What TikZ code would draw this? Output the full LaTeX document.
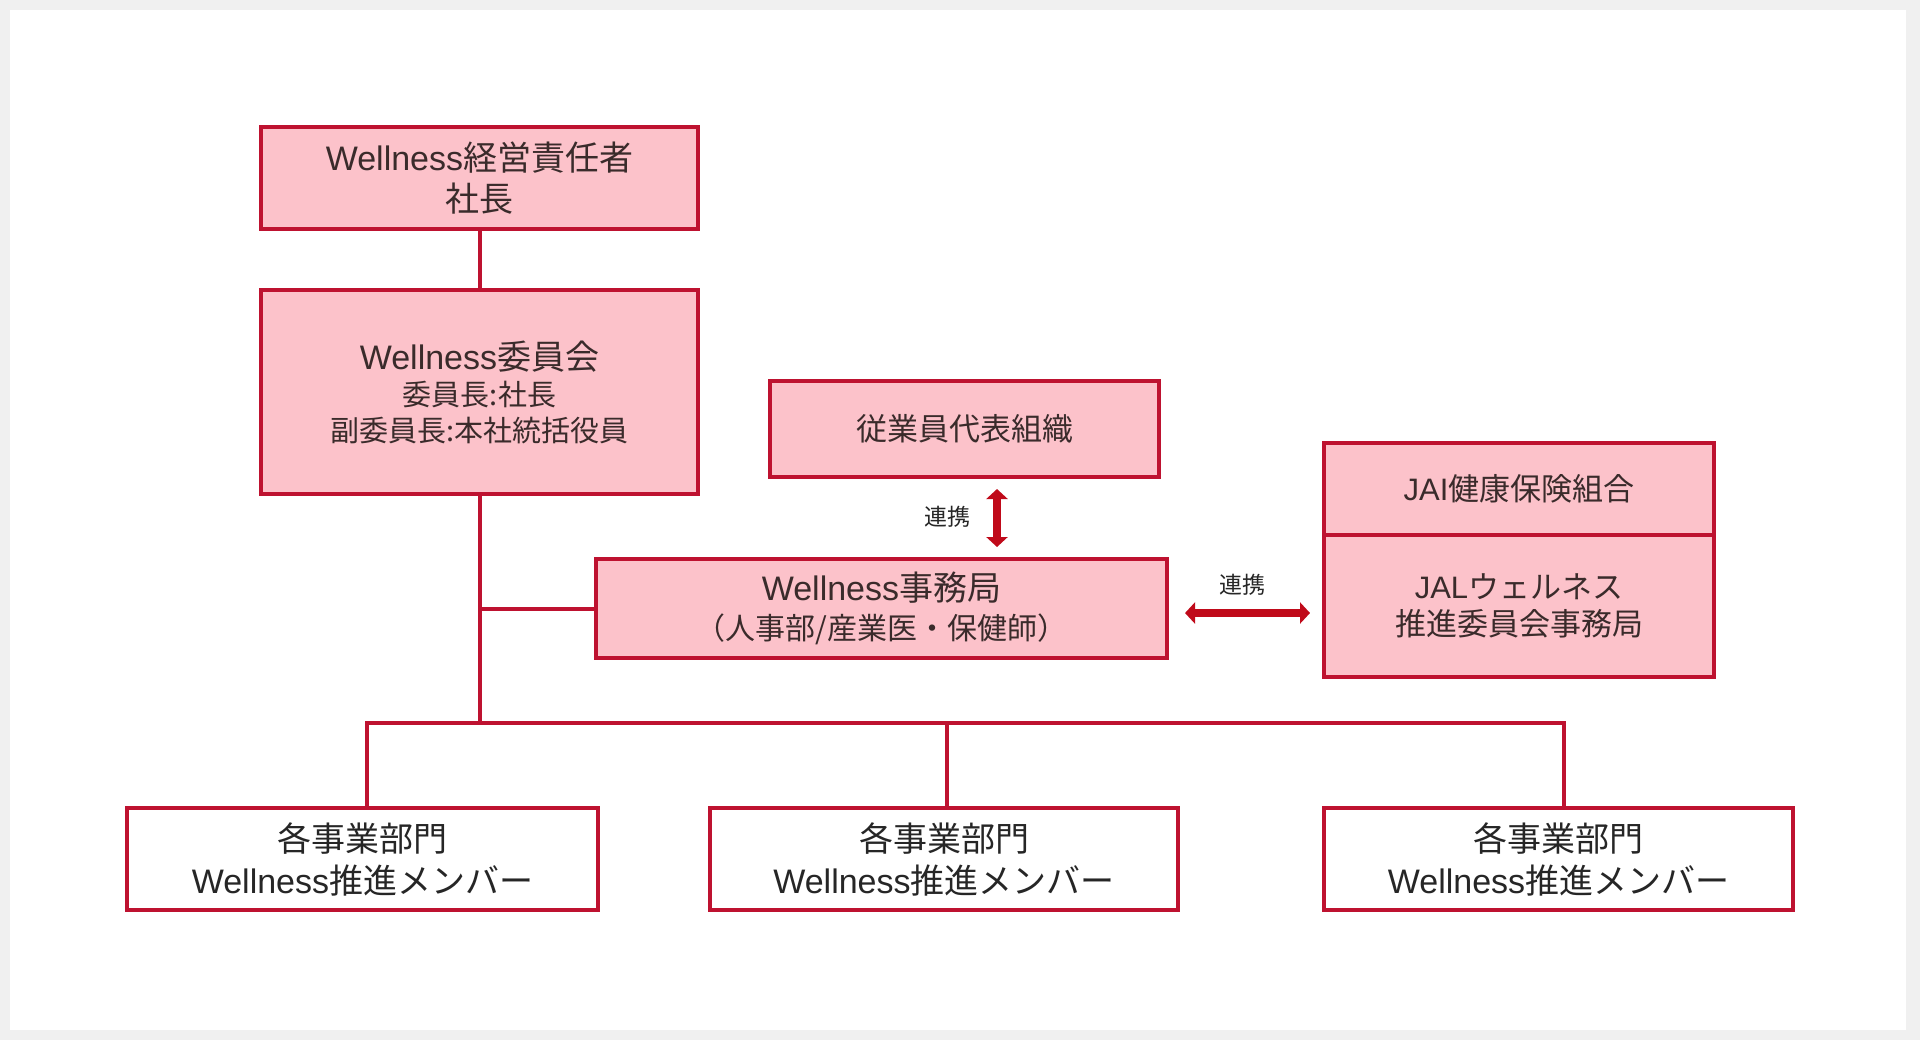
\documentclass[tikz,border=0pt]{standalone}
\usepackage{fontspec}
\setmainfont{Noto Sans CJK JP}
\newfontfamily\lat{Liberation Sans}
\usetikzlibrary{arrows.meta}
\definecolor{bord}{HTML}{BE1230}
\definecolor{pinkf}{HTML}{FCC2CA}
\definecolor{txt}{HTML}{3A2B2B}
\definecolor{bgc}{HTML}{F0F0F0}
\definecolor{arr}{HTML}{C00A1A}
\newcommand{\fs}[2]{\fontsize{#1}{#2}\selectfont}
\begin{document}
\begin{tikzpicture}[x=0.5pt,y=-0.5pt,
  box/.style={draw=bord, line width=2pt, fill=pinkf, text=txt, align=center, inner sep=0pt},
  wbox/.style={draw=bord, line width=2pt, fill=white, text=black!85, align=center, inner sep=0pt, font=\fs{17}{21}},
  conn/.style={draw=bord, line width=2pt},
  dbl/.style={draw=arr, line width=4pt, {Triangle[width=10.5pt,length=5pt]}-{Triangle[width=10.5pt,length=5pt]}},
  lbl/.style={text=black!85, font=\fs{11.5}{14}}]
\fill[bgc] (0,0) rectangle (1920,1040);
\fill[white] (10,10) rectangle (1906,1030);
\useasboundingbox (0,0) rectangle (1920,1040);

\node[box, font=\fs{17}{20.5}, minimum width=218.5pt, minimum height=51pt] (ceo) at (479.5,178)
  {{\lat Wellness}経営責任者\\社長};
\node[box, font=\fs{14.5}{18}, minimum width=218.5pt, minimum height=102pt] (comm) at (479.5,392)
  {\fs{17}{19}{\lat Wellness}委員会\\委員長:社長\\副委員長:本社統括役員};
\node[box, font=\fs{15.5}{18}, minimum width=194.5pt, minimum height=48pt] (emp) at (964.5,429)
  {従業員代表組織};
\node[box, font=\fs{15}{19.5}, minimum width=285.5pt, minimum height=49.5pt] (sec) at (881.5,608.5)
  {\fs{17}{19}{\lat Wellness}事務局\\（人事部/産業医・保健師）};
\node[box, font=\fs{15.5}{18}, minimum width=195pt, minimum height=46pt] (kenpo) at (1519,489)
  {{\lat JAI}健康保険組合};
\node[box, font=\fs{15.5}{18.5}, minimum width=195pt, minimum height=71pt] (jal) at (1519,606)
  {{\lat JAL}ウェルネス\\推進委員会事務局};

\node[wbox, minimum width=235.5pt, minimum height=51pt] (b1) at (362.5,859)
  {各事業部門\\{\lat Wellness}推進メンバー};
\node[wbox, minimum width=234pt, minimum height=51pt] (b2) at (944,859)
  {各事業部門\\{\lat Wellness}推進メンバー};
\node[wbox, minimum width=234.5pt, minimum height=51pt] (b3) at (1558.5,859)
  {各事業部門\\{\lat Wellness}推進メンバー};

\coordinate (bus) at (481,723);
\draw[conn] (ceo.south) -- (comm.north);
\draw[conn] (comm.south) -- (comm.south |- bus);
\draw[conn] (comm.south |- sec.west) -- (sec.west);
\draw[conn] ([xshift=2pt]b1.north) -- ([xshift=2pt]b1.north |- bus) -- ([xshift=2.5pt]b3.north |- bus) -- ([xshift=2.5pt]b3.north);
\draw[conn] ([xshift=1.5pt]b2.north) -- ([xshift=1.5pt]b2.north |- bus);

\coordinate (va) at (997,489);
\coordinate (vb) at (997,547);
\draw[dbl] (va) -- (vb);
\node[lbl] (l1) at (947,517) {連携};
\coordinate (ha) at (1185,613);
\coordinate (hb) at (1310,613);
\draw[dbl] (ha) -- (hb);
\node[lbl] (l2) at (1242,585) {連携};
\end{tikzpicture}
\end{document}
